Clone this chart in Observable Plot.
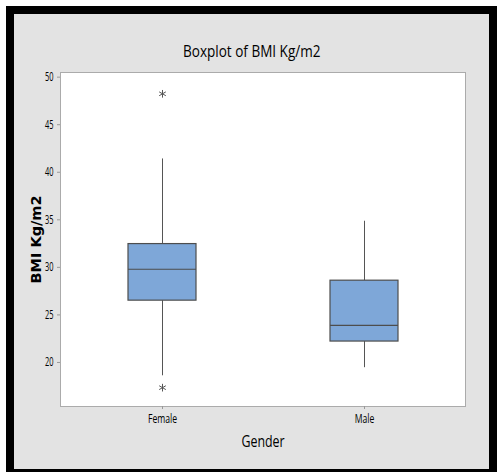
<!DOCTYPE html>
<html>
<head>
<meta charset="utf-8">
<script src="https://cdn.jsdelivr.net/npm/d3@7"></script>
<script src="https://cdn.jsdelivr.net/npm/@observablehq/plot@0.6"></script>
<style>
  html, body { margin: 0; padding: 0; background: #fff; }
  #wrap {
    position: absolute; left: 6px; top: 6px;
    width: 475px; height: 455px;
    border: 8px solid #000; border-bottom-width: 3px;
    background: #e3e3e3; overflow: hidden;
  }
  #title {
    position: absolute; left: 0; right: 0; top: 25px;
    text-align: center; line-height: 17px;
  }
  #title span {
    display: inline-block; font: 500 16.5px "Open Sans", sans-serif; color: #000;
    transform: scaleX(0.82); transform-origin: center;
  }
  #chart { position: absolute; left: 0; top: 0; }
  #chart svg { overflow: visible; }
</style>
</head>
<body>
<div id="wrap">
  <div id="title"><span>Boxplot of BMI Kg/m2</span></div>
  <div id="chart"></div>
</div>
<script>
const genders = ["Female", "Male"];
const q1 = [26.5, 22.2];
const median = [29.8, 23.9];
const q3 = [32.45, 28.6];
const whiskerLow = [18.6, 19.45];
const whiskerHigh = [41.4, 34.85];
const outlierGender = ["Female", "Female"];
const outlierValue = [48.25, 17.35];
const yTicks = [20, 25, 30, 35, 40, 45, 50];

const boxes = genders.map((g, i) => ({
  gender: g, q1: q1[i], median: median[i], q3: q3[i], lo: whiskerLow[i], hi: whiskerHigh[i]
}));
const outliers = outlierGender.map((g, i) => ({gender: g, value: outlierValue[i]}));

const plot = Plot.plot({
  width: 475,
  height: 455,
  marginLeft: 46,
  marginTop: 58,
  marginRight: 24,
  marginBottom: 63,
  style: {background: "transparent", fontFamily: "'Open Sans', sans-serif", fontSize: "12px", color: "#000"},
  x: {domain: genders, paddingInner: 0.664, paddingOuter: 0.332, label: "Gender"},
  y: {domain: [15.37, 50.49], label: "BMI Kg/m2"},
  marks: [
    Plot.frame({fill: "#fff", stroke: "#ababab"}),
    Plot.axisY({ticks: yTicks, tickSize: 3, tickPadding: 4, stroke: "#999", label: "BMI Kg/m2", labelAnchor: "center", labelArrow: "none", labelOffset: 30}),
    Plot.axisX({tickSize: 3, tickPadding: 5, stroke: "#999", label: "Gender", labelAnchor: "center", labelOffset: 40}),
    Plot.ruleX(boxes, {x: "gender", y1: "q3", y2: "hi", stroke: "#555", strokeWidth: 1}),
    Plot.ruleX(boxes, {x: "gender", y1: "lo", y2: "q1", stroke: "#555", strokeWidth: 1}),
    Plot.barY(boxes, {x: "gender", y1: "q1", y2: "q3", fill: "#7ea7d8", stroke: "#4d4d4d", strokeWidth: 1.2, insetLeft: 0, insetRight: 0}),
    Plot.tickY(boxes, {x: "gender", y: "median", stroke: "#4d4d4d", strokeWidth: 1.2}),
    Plot.dot(outliers, {x: "gender", y: "value", symbol: "asterisk", r: 3.6, stroke: "#555", strokeWidth: 1})
  ]
});
document.getElementById("chart").appendChild(plot);

// horizontal condensing of texts (reference is horizontally squeezed)
function squeeze(sel, k) {
  plot.querySelectorAll(sel).forEach(t => {
    const tr = t.getAttribute("transform");
    if (tr) t.setAttribute("transform", tr + ` scale(${k},1)`);
    else {
      const x = +t.getAttribute("x") || 0;
      t.setAttribute("transform", `translate(${x},0) scale(${k},1) translate(${-x},0)`);
    }
  });
}
plot.querySelectorAll('g[aria-label="x-axis tick label"] text, g[aria-label="y-axis tick label"] text')
  .forEach(t => { t.style.fontWeight = "500"; });
squeeze('g[aria-label="x-axis tick label"] text', 0.72);
squeeze('g[aria-label="y-axis tick label"] text', 0.62);

const yl = plot.querySelector('g[aria-label="y-axis label"] text');
if (yl) { yl.style.font = "bold 14.5px 'DejaVu Sans', Verdana, sans-serif"; }
const xl = plot.querySelector('g[aria-label="x-axis label"] text');
if (xl) { xl.style.font = "500 15.5px 'Open Sans', sans-serif"; }
squeeze('g[aria-label="x-axis label"] text', 0.8);
</script>
</body>
</html>
